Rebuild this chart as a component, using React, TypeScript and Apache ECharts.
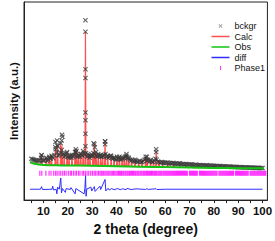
import React, { useEffect, useRef } from "react";
import * as echarts from "echarts";

const FONT = 'Arial, "Liberation Sans", Helvetica, sans-serif';

// x-axis ticks / labels (2 theta, degrees)
const xTickValues = [5, 10, 15, 20, 25, 30, 35, 40, 45, 50, 55, 60, 65, 70, 75, 80, 85, 90, 95, 100];
const xLabelValues = [10, 20, 30, 40, 50, 60, 70, 80, 90, 100];

// bckgr crosses: dense band, 5..60 deg every 0.5 deg
const bandLowStart = 5;
const bandLowStep = 0.5;
const bandLowAngle = [
  4300, 4250, 4200, 4150, 4150, 4100, 4100, 4150, 4400, 4150,
  4100, 4150, 4350, 4100, 4200, 4400, 4300, 4500, 4350, 4700,
  5300, 5000, 4600, 4700, 4900, 5200, 4800, 4500, 4600, 4900,
  4500, 4400, 4600, 4400, 4500, 4700, 5000, 4600, 4500, 4700,
  4500, 4800, 4600, 4900, 4700, 4900, 4500, 4600, 4400, 4600,
  4700, 4900, 4800, 4600, 4500, 4800, 4600, 4700, 4500, 4600,
  4700, 4800, 4500, 4400, 4500, 4600, 4400, 4300, 4400, 4300,
  4200, 4300, 4400, 4300, 4200, 4300, 4400, 4500, 4600, 4400,
  4300, 4200, 4100, 4200, 4100, 4000, 4100, 4000, 4000, 4100,
  4000, 3950, 4050, 4200, 4300, 4100, 4200, 4000, 4100, 4000,
  3950, 4100, 4300, 4200, 4000, 3950, 3900, 3950, 3900, 3850, 3900,
];
// bckgr crosses: 60.5..100 deg every 0.5 deg
const bandHighStart = 60.5;
const bandHighStep = 0.5;
const bandHighAngle = [
  3850, 3900, 3800, 3850, 3800, 3850, 3850, 3780, 3800, 3750,
  3800, 3820, 3750, 3760, 3720, 3700, 3760, 3720, 3700, 3680,
  3700, 3720, 3660, 3650, 3680, 3640, 3620, 3660, 3620, 3600,
  3620, 3590, 3600, 3620, 3580, 3570, 3590, 3560, 3550, 3580,
  3540, 3550, 3530, 3520, 3540, 3510, 3500, 3530, 3490, 3500,
  3480, 3470, 3490, 3460, 3450, 3480, 3440, 3450, 3430, 3420,
  3440, 3410, 3420, 3400, 3410, 3390, 3400, 3380, 3390, 3370,
  3380, 3370, 3360, 3370, 3350, 3360, 3350, 3340, 3350, 3340,
];
// bckgr crosses on the peaks
const peakCrosses: [number, number][] = [
  [9.2, 4630], [14.9, 6030], [14.9, 5500], [15.6, 6200], [15.7, 5700],
  [17.5, 6200], [17.6, 6800], [17.8, 6600], [19.7, 5000], [23.1, 5000],
  [23.3, 5300], [26.3, 5100], [27.25, 18700], [27.25, 17500], [27.25, 13600],
  [27.25, 12700], [27.25, 9100], [27.25, 8300], [27.25, 6900], [27.25, 5600],
  [30.6, 5900], [30.9, 5800], [31.1, 5500], [35.3, 6130], [35.35, 6100],
  [35.3, 5800], [44.1, 4800], [44.1, 4500], [52.5, 4500], [56.3, 5300], [56.3, 5000],
  [9.2, 4700], [11.2, 4400], [12.4, 4500], [13.3, 4600], [15.8, 5600], [17.1, 5900],
  [18.5, 4800], [20.5, 4600], [21.7, 4700], [23.6, 5100], [24.4, 4600], [25.3, 4800],
  [28.3, 4800], [29.1, 4600], [30.3, 4600], [31.6, 5000], [32.5, 4600], [33.5, 4500],
  [34.3, 4600], [36.4, 4600], [37.8, 4600], [39.0, 4400], [40.2, 4500], [41.2, 4500],
  [42.3, 4400], [45.0, 4400], [47.6, 4200], [52.0, 4500], [54.0, 4200],
];

// Calc profile
const calcProfile: [number, number][] = [
  [4.5, 3900], [8.9, 3720], [9.2, 4800], [9.5, 3710],
  [11.0, 3690], [11.2, 4400], [11.4, 3680],
  [12.2, 3670], [12.4, 4500], [12.6, 3665],
  [13.1, 3660], [13.3, 4600], [13.5, 3655],
  [14.7, 3650], [14.9, 5300], [15.1, 3645],
  [15.6, 3640], [15.8, 5630], [16.0, 3640],
  [16.9, 3635], [17.1, 6000], [17.3, 3630], [17.6, 5600], [17.8, 3630],
  [18.3, 3625], [18.5, 4800], [18.7, 3620],
  [19.5, 3615], [19.7, 5000], [19.9, 3610],
  [20.3, 3605], [20.5, 4600], [20.7, 3600],
  [21.5, 3600], [21.7, 4700], [21.9, 3600],
  [22.8, 3595], [23.0, 5300], [23.2, 3595], [23.4, 3595], [23.6, 5100], [23.8, 3590],
  [24.2, 3590], [24.4, 4600], [24.6, 3590],
  [25.1, 3585], [25.3, 4800], [25.5, 3585],
  [26.1, 3580], [26.3, 5100], [26.5, 3580],
  [27.05, 3580], [27.25, 17500], [27.45, 3580],
  [28.1, 3575], [28.3, 4800], [28.5, 3575],
  [28.9, 3570], [29.1, 4600], [29.3, 3570],
  [30.1, 3565], [30.3, 4630], [30.5, 3565], [30.7, 3565], [30.9, 5800], [31.1, 3565],
  [31.4, 3560], [31.6, 5000], [31.8, 3560],
  [32.3, 3560], [32.5, 4630], [32.7, 3555],
  [33.3, 3555], [33.5, 4500], [33.7, 3550],
  [34.1, 3550], [34.3, 4600], [34.5, 3550],
  [35.1, 3545], [35.3, 6100], [35.5, 3545],
  [36.2, 3540], [36.4, 4600], [36.6, 3540],
  [37.6, 3535], [37.8, 4630], [38.0, 3535],
  [38.8, 3530], [39.0, 4400], [39.2, 3530],
  [40.0, 3525], [40.2, 4500], [40.4, 3525],
  [41.0, 3520], [41.2, 4500], [41.4, 3520],
  [42.1, 3515], [42.3, 4400], [42.5, 3515],
  [43.0, 3510], [43.2, 4400], [43.4, 3510],
  [43.9, 3505], [44.1, 4630], [44.3, 3505],
  [44.8, 3500], [45.0, 4400], [45.2, 3500],
  [46.0, 3495], [46.2, 4300], [46.4, 3495],
  [47.4, 3490], [47.6, 4200], [47.8, 3490],
  [48.9, 3485], [49.1, 4200], [49.3, 3485],
  [50.3, 3480], [50.5, 4200], [50.7, 3480],
  [51.8, 3475], [52.0, 4500], [52.2, 3475], [52.4, 3475], [52.6, 4400], [52.8, 3470],
  [53.8, 3465], [54.0, 4200], [54.2, 3465],
  [55.0, 3460], [55.2, 4200], [55.4, 3460],
  [56.1, 3455], [56.3, 5130], [56.5, 3455],
  [57.3, 3450], [57.5, 4100], [57.7, 3450],
  [58.8, 3445], [59.0, 4050], [59.2, 3445],
  [60.8, 3440], [61.0, 3850], [61.2, 3435],
  [63.3, 3425], [63.5, 3800], [63.7, 3420],
  [65.8, 3410], [66.0, 3800], [66.2, 3405],
  [68.3, 3400], [68.5, 3750], [68.7, 3395],
  [70.8, 3390], [71.0, 3700], [71.2, 3385],
  [73.8, 3375], [74.0, 3650], [74.2, 3370],
  [76.8, 3365], [77.0, 3620], [77.2, 3360],
  [79.8, 3350], [80.0, 3600], [80.2, 3345],
  [83.8, 3335], [84.0, 3550], [84.2, 3330],
  [87.8, 3320], [88.0, 3500], [88.2, 3315],
  [100.5, 3290],
];

// Obs (smooth background curve)
const obsCurve: [number, number][] = [
  [4.5, 3950], [6, 3800], [8, 3700], [10, 3650], [15, 3620], [20, 3600], [30, 3570],
  [40, 3530], [50, 3480], [60, 3430], [70, 3390], [80, 3350], [90, 3320], [100.5, 3300],
];

// diff curve
const diffCurve: [number, number][] = [
  [4.5, 1130], [8.8, 1130], [9.2, 1400], [9.6, 1100], [13.5, 1130], [13.8, 1450], [14.1, 1050],
  [15.2, 1130], [15.5, 650], [15.8, 1350], [16.5, 1130], [17.1, 2300], [17.4, 750], [17.8, 1200],
  [19.0, 800], [19.3, 1200], [21.0, 1100], [21.3, 1300], [23.0, 650], [23.3, 1200],
  [26.7, 650], [27.0, 1200], [27.3, 2550], [27.5, 400], [27.8, 1150], [29.5, 1350], [29.8, 950],
  [30.9, 1400], [31.2, 900], [33.2, 1450], [33.5, 1100], [35.3, 2150], [35.6, 950],
  [36.5, 1230], [37.0, 1050], [38.0, 1200], [39.0, 1080], [40.5, 1200], [41.5, 1080],
  [42.5, 1180], [44.0, 1080], [44.3, 1220], [46.0, 1100], [48.0, 1170], [52.0, 1110],
  [52.5, 1200], [53.0, 1110], [56.3, 1180], [56.6, 1100], [60.0, 1130], [100.0, 1130],
];

// Phase1 reflection positions
const phase1Level = 2800;
const phase1Positions = [
  8.5, 9.3, 11.0, 12.3, 13.1, 14.2, 15.0, 15.6, 16.4, 17.1, 17.9, 18.6, 19.3, 20.2, 21.0, 21.5,
  22.3, 23.0, 23.6, 24.4, 25.0, 25.9, 26.5, 27.2, 27.9, 28.6, 29.4, 30.1, 30.8, 31.3, 32.0, 32.6,
  33.2, 33.7, 34.1, 34.6, 35.2, 35.7, 36.2, 36.8, 37.3, 37.8, 38.3, 38.8, 39.3, 39.8,
  40.3, 40.8, 41.2, 41.7, 42.1, 42.6, 43.0, 43.5, 43.9, 44.4, 44.8, 45.3, 45.7, 46.2, 46.6, 47.0,
  47.5, 47.9, 48.4, 48.8, 49.2, 49.7, 50.1, 50.5, 51.0, 51.4, 51.8, 52.3, 52.7, 53.1, 53.6, 54.0,
  54.4, 54.8, 55.3, 55.7, 56.1, 56.5, 57.0, 57.4, 57.8, 58.2, 58.6, 59.1, 59.5, 59.9,
  60.3, 60.7, 61.1, 61.5, 61.9, 62.3, 62.7, 63.1, 63.5, 63.9, 64.3, 64.7, 65.1, 65.5, 65.9, 66.3,
  66.7, 67.1, 67.5, 67.9, 68.3, 68.7, 69.1, 70.0, 70.4, 70.8, 71.2, 71.6, 72.0, 72.4, 72.8, 73.2,
  74.1, 74.5, 74.9, 75.3, 75.7, 76.1, 76.5, 76.9, 77.3, 77.7, 78.1, 78.5, 78.9, 79.3, 79.7, 80.1,
  80.5, 80.9, 81.3, 82.1, 82.5, 82.9, 83.3, 83.7, 84.1, 84.5, 84.9, 85.3, 85.7, 86.1, 86.5, 86.9,
  87.3, 87.7, 88.1, 88.9, 89.3, 89.7, 90.1, 90.5, 90.9, 91.3, 91.7, 92.1, 92.5, 92.9, 93.3, 93.7,
  94.1, 94.9, 95.3, 95.7, 96.1, 96.5, 96.9, 97.3, 97.7, 98.1, 98.5, 98.9, 99.3, 99.7, 100.1,
  100.5, 100.9, 101.3,
];

const CROSS =
  "path://M0,1.5L1.5,0L5,3.5L8.5,0L10,1.5L6.5,5L10,8.5L8.5,10L5,6.5L1.5,10L0,8.5L3.5,5Z";
const LINE_ICON = "path://M0,0h18v1.5h-18z";
const TICK_ICON = "path://M0,0h1v4h-1z";

const C_CROSS = "#3a3a3a";
const C_CALC = "#ff4f4f";
const C_OBS = "#12c412";
const C_DIFF = "#2e2eff";
const C_PHASE = "#ff00ff";

export default function App() {
  const ref = useRef<HTMLDivElement>(null);
  useEffect(() => {
    if (!ref.current) return;
    const chart = echarts.init(ref.current, null, { renderer: "svg" });
    const crossData: [number, number][] = [
      ...bandLowAngle.map((v, i) => [bandLowStart + i * bandLowStep, v] as [number, number]),
      ...bandHighAngle.map((v, i) => [bandHighStart + i * bandHighStep, v] as [number, number]),
      ...peakCrosses,
    ];
    const phaseData = phase1Positions.map((p) => [p, phase1Level]);
    chart.setOption({
      animation: false,
      backgroundColor: "#ffffff",
      textStyle: { fontFamily: FONT },
      grid: {
        left: 17, top: 2, right: 5, bottom: 33,
        show: true, borderColor: "#222", borderWidth: 1, containLabel: false,
      },
      legend: {
        orient: "vertical",
        left: 211.5,
        top: 21,
        padding: 0,
        itemWidth: 18,
        itemHeight: 4,
        itemGap: 0.5,
        selectedMode: false,
        textStyle: { fontFamily: FONT, fontSize: 9, color: "#111", lineHeight: 10 },
        data: [
          { name: "bckgr", icon: CROSS, itemStyle: { color: "#777" } },
          { name: "Calc", icon: LINE_ICON },
          { name: "Obs", icon: LINE_ICON },
          { name: "diff", icon: LINE_ICON },
          { name: "Phase1", icon: TICK_ICON },
        ],
      },
      xAxis: {
        type: "value",
        min: 2,
        max: 102,
        splitLine: { show: false },
        axisLine: { show: true, lineStyle: { color: "#222", width: 1 } },
        axisTick: { show: true, customValues: xTickValues, length: 3, lineStyle: { color: "#222", width: 1 } },
        axisLabel: {
          customValues: xLabelValues,
          fontFamily: FONT, fontWeight: "bold", fontSize: 11.5, color: "#111", margin: 5,
        },
        name: "2 theta (degree)",
        nameLocation: "middle",
        nameGap: 18,
        nameTextStyle: { fontFamily: FONT, fontWeight: "bold", fontSize: 14, color: "#111" },
      },
      yAxis: {
        type: "value",
        min: 0,
        max: 20600,
        splitLine: { show: false },
        axisLine: { show: true, lineStyle: { color: "#222", width: 1 } },
        axisTick: { show: false },
        axisLabel: { show: false },
        name: "Intensity (a.u.)",
        nameLocation: "middle",
        nameGap: 4,
        nameTextStyle: { fontFamily: FONT, fontWeight: "bold", fontSize: 11.5, color: "#111" },
      },
      series: [
        {
          name: "Calc", type: "line", data: calcProfile, showSymbol: false, symbol: "none",
          color: C_CALC, itemStyle: { color: C_CALC },
          lineStyle: { color: C_CALC, width: 1.2 }, z: 2,
        },
        {
          name: "bckgr", type: "scatter", data: crossData, symbol: CROSS, symbolSize: 5,
          color: C_CROSS, itemStyle: { color: C_CROSS }, z: 4,
        },
        {
          name: "Obs", type: "line", data: obsCurve, smooth: true, showSymbol: false, symbol: "none",
          color: C_OBS, itemStyle: { color: C_OBS },
          lineStyle: { color: C_OBS, width: 2 }, z: 5,
        },
        {
          name: "diff", type: "line", data: diffCurve, showSymbol: false, symbol: "none",
          color: C_DIFF, itemStyle: { color: C_DIFF },
          lineStyle: { color: C_DIFF, width: 1 }, z: 3,
        },
        {
          name: "Phase1", type: "scatter", data: phaseData, symbol: "rect", symbolSize: [1.2, 5],
          color: C_PHASE, itemStyle: { color: C_PHASE }, z: 3,
        },
      ],
    });
    return () => chart.dispose();
  }, []);
  return (
    <div
      ref={ref}
      style={{ position: "fixed", left: 0, top: 0, width: 275, height: 241 }}
    />
  );
}
